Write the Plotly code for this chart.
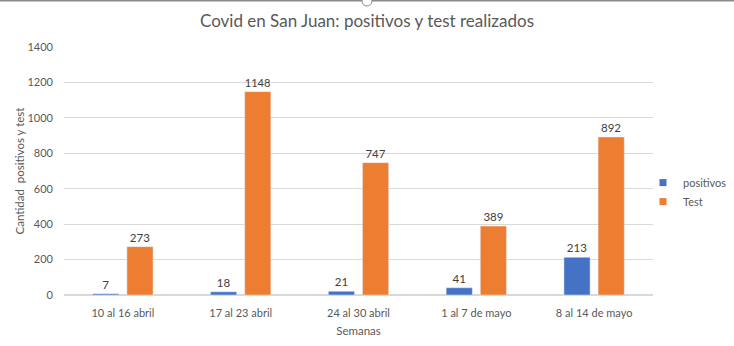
import plotly.graph_objects as go

# Weekly COVID figures for San Juan
semanas = ["10 al 16 abril", "17 al 23 abril", "24 al 30 abril", "1 al 7 de mayo", "8 al 14 de mayo"]
positivos = [7, 18, 21, 41, 213]
test = [273, 1148, 747, 389, 892]
y_ticks = [0, 200, 400, 600, 800, 1000, 1200, 1400]

AZUL = "#4472C4"
NARANJA = "#ED7D31"
GRIS_TEXTO = "#595959"
FUENTE = "Lato, sans-serif"

W, H = 734, 346
ML, MR, MT, MB = 64, 81, 47, 51
PW, PH = W - ML - MR, H - MT - MB
TOP = 1 + MT / PH            # page top in paper units
LEFT, RIGHT = -ML / PW, 1 + MR / PW

fig = go.Figure()

fig.add_trace(go.Bar(
    x=semanas, y=positivos, name="positivos", marker_color=AZUL,
    text=positivos, textposition="outside", cliponaxis=False,
    textfont=dict(color="#404040", size=11.5, family=FUENTE),
    showlegend=False,
))
fig.add_trace(go.Bar(
    x=semanas, y=test, name="Test", marker_color=NARANJA,
    text=test, textposition="outside", cliponaxis=False,
    textfont=dict(color="#404040", size=11.5, family=FUENTE),
    showlegend=False,
))

# small square legend keys
for nombre, color in [("positivos", AZUL), ("Test", NARANJA)]:
    fig.add_trace(go.Scatter(
        x=[None], y=[None], mode="markers", name=nombre,
        marker=dict(symbol="square", size=7, color=color),
    ))

fig.update_layout(
    width=W, height=H,
    margin=dict(l=ML, r=MR, t=MT, b=MB, autoexpand=False),
    paper_bgcolor="white", plot_bgcolor="white",
    font=dict(family=FUENTE, color=GRIS_TEXTO, size=11),
    title=dict(
        text="Covid en San Juan: positivos y test realizados",
        x=0.5, xanchor="center", y=0.94, yanchor="middle",
        font=dict(size=17, color=GRIS_TEXTO, family=FUENTE),
    ),
    barmode="group", bargap=0.42, bargroupgap=0.235,
    showlegend=True,
    legend=dict(
        x=(643 - ML) / PW, xanchor="left", y=0.415, yanchor="middle",
        font=dict(size=11, color=GRIS_TEXTO, family=FUENTE),
        itemwidth=30, tracegroupgap=0, bgcolor="rgba(0,0,0,0)",
    ),
    xaxis=dict(
        showgrid=False, showline=True, linecolor="#d9d9d9", linewidth=1,
        ticks="", ticklabelstandoff=8, tickfont=dict(size=11),
        title=dict(text="Semanas", standoff=8, font=dict(size=11.5, color=GRIS_TEXTO)),
    ),
    yaxis=dict(
        range=[0, 1400], tickvals=y_ticks, showgrid=True, gridcolor="#d9d9d9",
        zeroline=True, zerolinecolor="#d9d9d9", showline=False, ticks="",
        ticklabelstandoff=10, tickfont=dict(size=11),
        title=dict(text="Cantidad  positivos y test", standoff=0,
                   font=dict(size=11.5, color=GRIS_TEXTO)),
    ),
    shapes=[
        dict(type="line", xref="paper", yref="paper", x0=LEFT, x1=RIGHT, y0=TOP, y1=TOP,
             line=dict(color="#8c8c8c", width=3), layer="above"),
        dict(type="circle", xref="paper", yref="paper",
             xsizemode="pixel", ysizemode="pixel", xanchor=0.5 + (367 - ML - PW / 2) / PW,
             yanchor=TOP, x0=-5, x1=5, y0=-6, y1=4,
             line=dict(color="#8c8c8c", width=1), fillcolor="white", layer="above"),
    ],
)

fig.write_html("out.html")
